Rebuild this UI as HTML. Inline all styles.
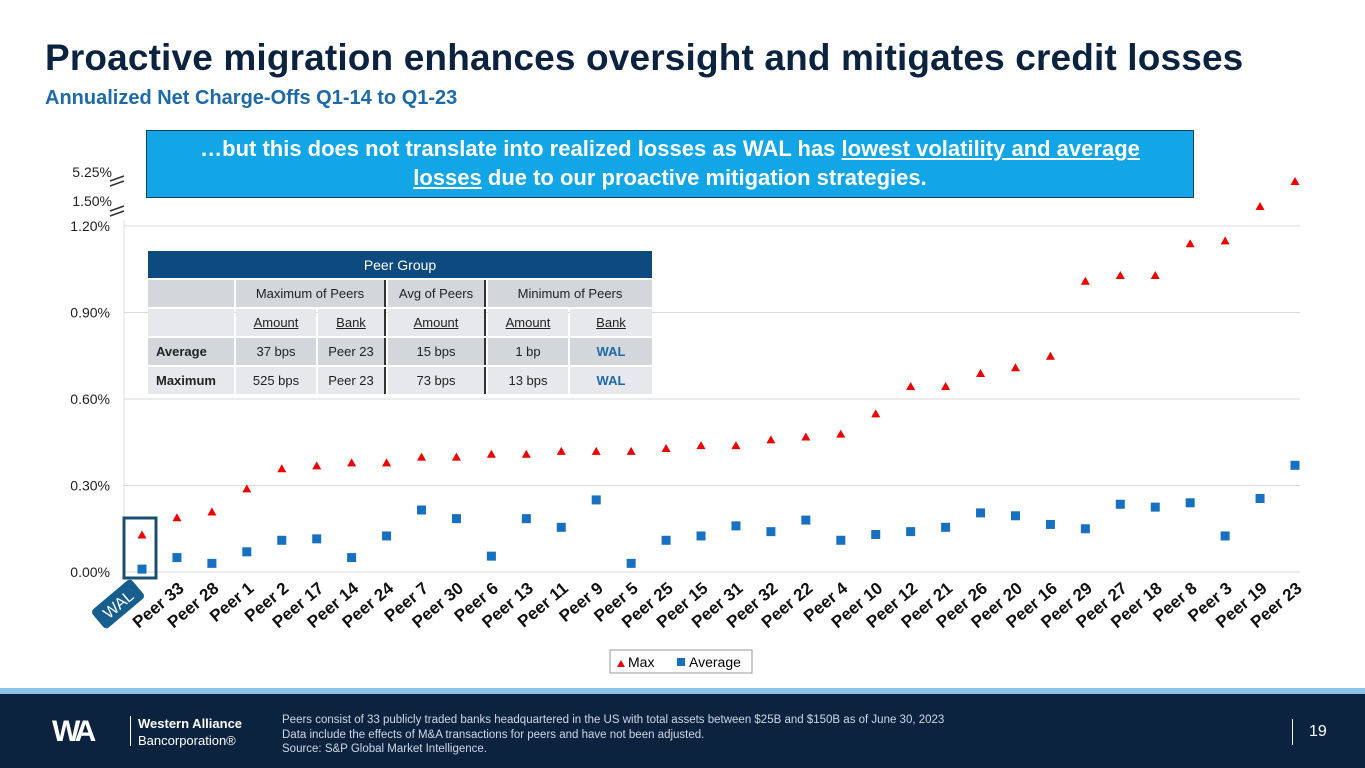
<!DOCTYPE html>
<html><head><meta charset="utf-8"><style>
body{margin:0;width:1365px;height:768px;overflow:hidden;background:#fff;font-family:"Liberation Sans",Arial,sans-serif;position:relative}
.t{position:absolute}
table{border-collapse:separate;border-spacing:2px;font-size:13px;color:#222}
td{text-align:center;height:27px;padding:0}
</style></head><body>
<div class="t" style="left:45px;top:37px;font-size:37px;font-weight:bold;color:#0c2340;letter-spacing:0.15px">Proactive migration enhances oversight and mitigates credit losses</div>
<div class="t" style="left:45px;top:87px;font-size:20px;font-weight:bold;color:#1e6aa8">Annualized Net Charge-Offs Q1-14 to Q1-23</div>

<svg class="t" style="left:0;top:0" width="1365" height="690">
<g id="grid"></g><g id="marks"></g><g id="labels"></g>
<rect x="124" y="518" width="32" height="60" fill="none" stroke="#1b4f72" stroke-width="3"/>
<g transform="translate(118,604) rotate(-40)">
<rect x="-26" y="-12" width="52" height="24" rx="4" fill="#155e8e"/>
<text x="0" y="6" text-anchor="middle" fill="#fff" font-size="16">WAL</text></g>
<g stroke="#333" stroke-width="1.5">
<line x1="110" y1="181" x2="124" y2="176"/><line x1="110" y1="186" x2="124" y2="181"/>
<line x1="110" y1="211" x2="124" y2="206"/><line x1="110" y1="216" x2="124" y2="211"/></g>
<g>
<rect x="610" y="650" width="142" height="23" fill="#fff" stroke="#999"/>
<polygon points="617,667 621,660 625,667" fill="#e00"/>
<text x="628" y="667" font-size="14">Max</text>
<rect x="677" y="658" width="8" height="8" fill="#1770c0"/>
<text x="689" y="667" font-size="14">Average</text></g>
</svg>

<div class="t" style="left:146px;top:130px;width:1046px;height:63px;background:#12a6e6;border:1px solid #1a3d5c;color:#fff;font-weight:bold;font-size:22px;text-align:center;line-height:29px;padding-top:3px">…but this does not translate into realized losses as WAL has <u>lowest volatility and average</u><br><u>losses</u> due to our proactive mitigation strategies.</div>

<div class="t" style="left:146px;top:249px">
<table>
<tr><td colspan="6" style="background:#0c4a80;color:#fff;font-size:14px;width:502px">Peer Group</td></tr>
<tr style="background:#d3d7dc"><td style="width:86px"></td><td colspan="2" style="border-right:2px solid #333">Maximum of Peers</td><td style="border-right:2px solid #333">Avg of Peers</td><td colspan="2">Minimum of Peers</td></tr>
<tr style="background:#e6e8eb"><td></td><td style="width:80px"><u>Amount</u></td><td style="width:66px;border-right:2px solid #333"><u>Bank</u></td><td style="width:96px;border-right:2px solid #333"><u>Amount</u></td><td style="width:80px"><u>Amount</u></td><td style="width:82px"><u>Bank</u></td></tr>
<tr style="background:#d3d7dc"><td style="text-align:left;padding-left:8px;font-weight:bold">Average</td><td>37 bps</td><td style="border-right:2px solid #333">Peer 23</td><td style="border-right:2px solid #333">15 bps</td><td>1 bp</td><td style="color:#1e6aa8;font-weight:bold">WAL</td></tr>
<tr style="background:#e6e8eb"><td style="text-align:left;padding-left:8px;font-weight:bold">Maximum</td><td>525 bps</td><td style="border-right:2px solid #333">Peer 23</td><td style="border-right:2px solid #333">73 bps</td><td>13 bps</td><td style="color:#1e6aa8;font-weight:bold">WAL</td></tr>
</table></div>

<div class="t" style="left:0;top:688px;width:1365px;height:6px;background:#8cc4e8"></div>
<div class="t" style="left:0;top:694px;width:1365px;height:74px;background:#0c2340"></div>
<div class="t" style="left:52px;top:715px;color:#fff;font-size:30px;font-weight:bold;letter-spacing:-4px">WA</div>
<div class="t" style="left:130px;top:716px;width:1px;height:30px;background:#fff"></div>
<div class="t" style="left:138px;top:715px;color:#fff;font-size:13px;line-height:17px"><b>Western Alliance</b><br>Bancorporation®</div>
<div class="t" style="left:282px;top:713px;color:#cfd8e3;font-size:11.5px;line-height:14.5px">Peers consist of 33 publicly traded banks headquartered in the US with total assets between $25B and $150B as of June 30, 2023<br>Data include the effects of M&amp;A transactions for peers and have not been adjusted.<br>Source: S&amp;P Global Market Intelligence.</div>
<div class="t" style="left:1292px;top:719px;width:1px;height:26px;background:#fff"></div>
<div class="t" style="left:1309px;top:723px;color:#fff;font-size:16px">19</div>

<script>
const categories=["WAL","Peer 33","Peer 28","Peer 1","Peer 2","Peer 17","Peer 14","Peer 24","Peer 7","Peer 30","Peer 6","Peer 13","Peer 11","Peer 9","Peer 5","Peer 25","Peer 15","Peer 31","Peer 32","Peer 22","Peer 4","Peer 10","Peer 12","Peer 21","Peer 26","Peer 20","Peer 16","Peer 29","Peer 27","Peer 18","Peer 8","Peer 3","Peer 19","Peer 23"];
const maxValues=[0.13,0.19,0.21,0.29,0.36,0.37,0.38,0.38,0.40,0.40,0.41,0.41,0.42,0.42,0.42,0.43,0.44,0.44,0.46,0.47,0.48,0.55,0.645,0.645,0.69,0.71,0.75,1.01,1.03,1.03,1.14,1.15,1.44,5.25];
const avgValues=[0.01,0.05,0.03,0.07,0.11,0.115,0.05,0.125,0.215,0.185,0.055,0.185,0.155,0.25,0.03,0.11,0.125,0.16,0.14,0.18,0.11,0.13,0.14,0.155,0.205,0.195,0.165,0.15,0.235,0.225,0.24,0.125,0.255,0.37];
const tickValues=[0,0.3,0.6,0.9,1.2];
const tickLabels=["0.00%","0.30%","0.60%","0.90%","1.20%"];
const breakTicks=[1.5,5.25];
const breakLabels=["1.50%","5.25%"];
const NS="http://www.w3.org/2000/svg";
function y(v){
  if(v<=1.2) return 572-v*(346/1.2);
  if(v<=1.5) return 226-(v-1.2)/0.3*25;
  return 201-(v-1.5)/3.75*20;
}
function x(i){return 142+i*(1295-142)/(categories.length-1);}
function mk(tag,attrs,parent){const e=document.createElementNS(NS,tag);for(const k in attrs)e.setAttribute(k,attrs[k]);parent.appendChild(e);return e;}
const grid=document.getElementById('grid'),marks=document.getElementById('marks'),labels=document.getElementById('labels');
const axl=mk('line',{x1:124,y1:220,x2:124,y2:572,stroke:'#ddd'},grid);


tickValues.forEach((v,i)=>{
  const g=mk('line',{x1:124,y1:y(v),x2:1300,y2:y(v),stroke:'#d9d9d9'},grid);
  
  
  const t=mk('text',{x:110,y:y(v)+5,'text-anchor':'end','font-size':14,fill:'#222'},grid);
  t.textContent=tickLabels[i];
  
  
});
const breakY=[201,172];
breakTicks.forEach((v,i)=>{
  const t=mk('text',{x:112,y:breakY[i]+5,'text-anchor':'end','font-size':14,fill:'#222'},grid);
  t.textContent=breakLabels[i];
  
  
});
categories.forEach((c,i)=>{
  const cx=x(i);
  const ym=y(maxValues[i]);
  const p=mk('polygon',{points:`${cx-4.5},${ym+4} ${cx},${ym-4} ${cx+4.5},${ym+4}`,fill:'#e00'},marks);
  
  
  const ya=y(avgValues[i]);
  const r=mk('rect',{x:cx-4.5,y:ya-4.5,width:9,height:9,fill:'#1770c0'},marks);
  
  
  if(i>0){
    const t=mk('text',{x:0,y:0,'text-anchor':'end','font-size':17,'font-weight':'bold',fill:'#111',transform:`translate(${cx+8},${590}) rotate(-40)`},labels);
    t.textContent=c;
    
    
  }
});
</script>
</body></html>
